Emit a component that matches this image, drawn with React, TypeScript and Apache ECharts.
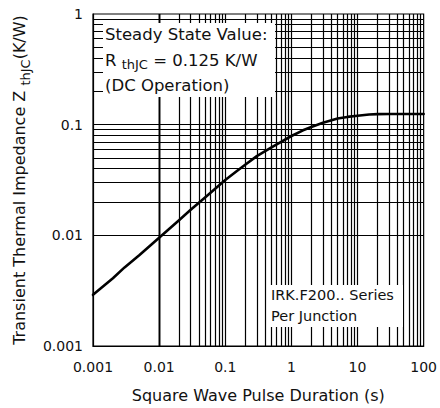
import React, { useEffect, useRef } from "react";
import * as echarts from "echarts";

// ---- data ----
const xTickLabels = ["0.001", "0.01", "0.1", "1", "10", "100"];
const yTickLabels = ["0.001", "0.01", "0.1", "1"];
const xDecades = [0.001, 0.01, 0.1, 1, 10];
const yDecades = [0.001, 0.01, 0.1];
const gridMultipliers = [1, 2, 3, 4, 5, 6, 7, 8, 9];

const pulseDuration = [
  0.001, 0.002, 0.003, 0.005, 0.01, 0.02, 0.03, 0.05, 0.1, 0.15, 0.2, 0.3, 0.5, 0.7,
  1, 1.5, 2, 3, 5, 7, 10, 15, 20, 30, 50, 100,
];
const impedance = [
  0.0029, 0.0041, 0.00513, 0.0066, 0.0095, 0.0137, 0.017, 0.0221, 0.0316, 0.0381, 0.0435, 0.052, 0.0622, 0.07,
  0.079, 0.0889, 0.0953, 0.104, 0.1135, 0.1175, 0.1205, 0.1235, 0.1245, 0.125, 0.125, 0.125,
];

const FONT = "DejaVu Sans";

export default function App() {
  const ref = useRef<HTMLDivElement>(null);
  useEffect(() => {
    if (!ref.current) return;
    const chart = echarts.init(ref.current, undefined, { renderer: "svg" });

    const xGrid = xDecades
      .flatMap((d) => gridMultipliers.map((m) => +(d * m).toPrecision(6)))
      .filter((v) => v > 0.001 && v < 100);
    const yGrid = yDecades
      .flatMap((d) => gridMultipliers.map((m) => +(d * m).toPrecision(6)))
      .filter((v) => v > 0.001 && v < 1);

    const curve = pulseDuration.map((x, i) => [x, impedance[i]]);

    chart.setOption({
      animation: false,
      backgroundColor: "#fff",
      textStyle: { fontFamily: FONT },
      grid: {
        left: 93,
        right: 15,
        top: 14,
        bottom: 61,
        show: true,
        borderColor: "#000",
        borderWidth: 1.2,
        backgroundColor: "transparent",
      },
      xAxis: {
        type: "log",
        logBase: 10,
        min: 0.001,
        max: 100,
        name: "Square Wave Pulse Duration (s)",
        nameLocation: "middle",
        nameGap: 41,
        nameTextStyle: { fontSize: 16, color: "#111", fontFamily: FONT },
        axisLine: { show: true, lineStyle: { color: "#000", width: 1.2 } },
        axisTick: { show: false },
        splitLine: { show: false },
        axisLabel: {
          fontSize: 14,
          color: "#111",
          fontFamily: FONT,
          margin: 14,
          showMinLabel: true,
          showMaxLabel: true,
          formatter: (v: number) => {
            const i = Math.round(Math.log10(v) + 3);
            return xTickLabels[i] ?? "";
          },
        },
      },
      yAxis: {
        type: "log",
        logBase: 10,
        min: 0.001,
        max: 1,
        name: "Transient Thermal Impedance Z {sub|thJC}(K/W)",
        nameLocation: "middle",
        nameRotate: 90,
        nameGap: 59,
        nameTextStyle: {
          fontSize: 16,
          color: "#111",
          fontFamily: FONT,
          rich: {
            sub: { fontSize: 13, fontFamily: FONT, color: "#111", padding: [12, 0, 0, 0] },
          },
        },
        axisLine: { show: true, lineStyle: { color: "#000", width: 1.2 } },
        axisTick: { show: false },
        splitLine: { show: false },
        axisLabel: {
          fontSize: 14,
          color: "#111",
          fontFamily: FONT,
          margin: 10,
          showMinLabel: true,
          showMaxLabel: true,
          formatter: (v: number) => {
            const i = Math.round(Math.log10(v) + 3);
            return yTickLabels[i] ?? "";
          },
        },
      },
      series: [
        {
          type: "line",
          data: [],
          z: 1,
          silent: true,
          markLine: {
            silent: true,
            symbol: ["none", "none"],
            label: { show: false },
            lineStyle: { color: "#000", width: 1.2, type: "solid" },
            emphasis: { disabled: true },
            data: [
              ...xGrid.map((v) => ({ xAxis: v })),
              ...yGrid.map((v) => ({ yAxis: v })),
            ],
          },
        },
        {
          type: "line",
          data: curve,
          z: 5,
          smooth: false,
          showSymbol: false,
          silent: true,
          lineStyle: { color: "#000", width: 2.6, join: "round", cap: "round" },
        },
      ],
      graphic: [
        {
          type: "rect",
          z: 100,
          shape: { x: 103, y: 23, width: 172, height: 74 },
          style: { fill: "#fff" },
        },
        {
          type: "text",
          z: 101,
          x: 105,
          y: 34,
          style: { text: "Steady State Value:", font: `16.5px "${FONT}"`, fill: "#111", verticalAlign: "middle" },
        },
        {
          type: "text",
          z: 101,
          x: 105,
          y: 60,
          style: {
            text: "R {sub|thJC} = 0.125 K/W",
            font: `16.5px "${FONT}"`,
            fill: "#111",
            verticalAlign: "middle",
            rich: {
              sub: { fontSize: 13, fontFamily: FONT, fill: "#111", padding: [8, 0, 0, 0] },
            },
          },
        },
        {
          type: "text",
          z: 101,
          x: 105,
          y: 85,
          style: { text: "(DC Operation)", font: `16.5px "${FONT}"`, fill: "#111", verticalAlign: "middle" },
        },
        {
          type: "rect",
          z: 100,
          shape: { x: 270, y: 285, width: 133, height: 42 },
          style: { fill: "#fff" },
        },
        {
          type: "text",
          z: 101,
          x: 271,
          y: 295,
          style: { text: "IRK.F200.. Series", font: `14.5px "${FONT}"`, fill: "#111", verticalAlign: "middle" },
        },
        {
          type: "text",
          z: 101,
          x: 271,
          y: 316,
          style: { text: "Per Junction", font: `14.5px "${FONT}"`, fill: "#111", verticalAlign: "middle" },
        },
      ],
    });

    return () => chart.dispose();
  }, []);

  return (
    <div
      ref={ref}
      style={{ position: "absolute", left: 0, top: 0, width: 440, height: 408, background: "#fff" }}
    />
  );
}
